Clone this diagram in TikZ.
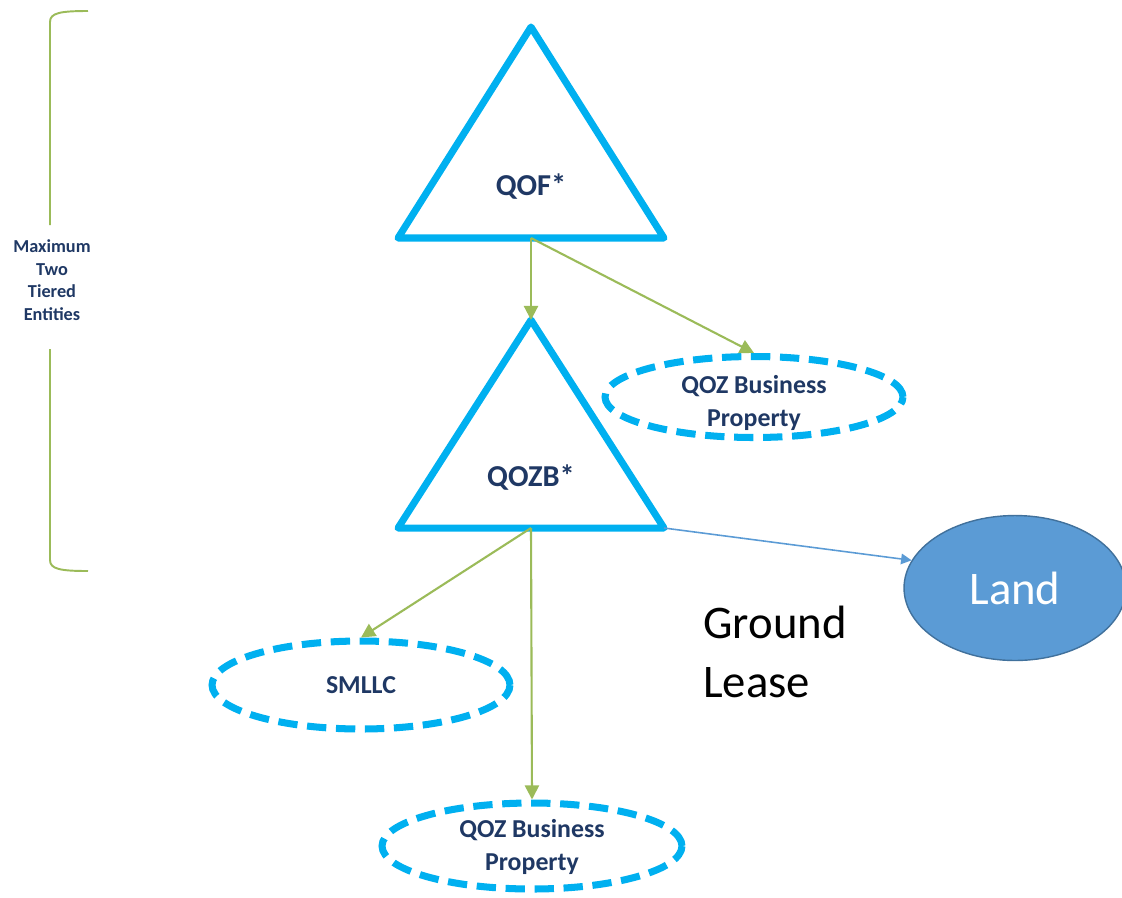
\documentclass[tikz,border=0pt]{standalone}
\usepackage{fontspec}
\setmainfont{Carlito}
\usetikzlibrary{shapes.geometric,arrows.meta}
\definecolor{qozblue}{RGB}{0,176,240}
\definecolor{leafgreen}{RGB}{155,187,89}
\definecolor{navytext}{RGB}{31,56,100}
\definecolor{landfill}{RGB}{91,155,213}
\definecolor{landedge}{RGB}{65,113,156}
\tikzset{
	tier/.style={draw=qozblue, line width=4pt, line join=round},
	tierlabel/.style={font=\fontsize{17.3}{20}\selectfont\bfseries, text=navytext},
	propbox/.style={ellipse, draw=qozblue, line width=4pt, dash pattern=on 11pt off 5.5pt, inner sep=0pt},
	proptext/.style={font=\fontsize{14.7}{18.3}\selectfont\bfseries, text=navytext, align=center},
	owns/.style={draw=leafgreen, line width=1.2pt, -{Triangle[length=8pt,width=8pt]}},
	bracket/.style={draw=leafgreen, line width=1.1pt}
}

\begin{document}
\begin{tikzpicture}[x=0.02cm, y=-0.02cm]
		%%%%% START %%%%%
		\useasboundingbox (0,0) rectangle (1122,897);
		
		% tiers
		\coordinate (qof apex) at (531,27);
		\coordinate (qof left) at (398,238);
		\coordinate (qof right) at (664,238);
		\coordinate (qof base) at (531,238);
		\draw[tier] (qof apex) -- (qof right) -- (qof left) -- cycle;
		\node[tierlabel] (qof) at (531,187) {QOF*};
		
		\coordinate (qozb apex) at (531,320);
		\coordinate (qozb left) at (398,528);
		\coordinate (qozb right) at (664,528);
		\coordinate (qozb base) at (531,528);
		\draw[tier] (qozb apex) -- (qozb right) -- (qozb left) -- cycle;
		\node[tierlabel] (qozb) at (531,478) {QOZB*};
		
		% property
		\node[propbox, minimum width=5.96cm, minimum height=1.62cm] (prop top) at (754,397) {};
		\node[proptext] (prop top text) at (754,403) {QOZ Business\\Property};
		\node[propbox, minimum width=5.96cm, minimum height=1.76cm, proptext] (smllc) at (361,685) {SMLLC};
		\node[propbox, minimum width=6.0cm, minimum height=1.72cm] (prop low) at (532,846) {};
		\node[proptext] (prop low text) at (532,847) {QOZ Business\\Property};
		\node[ellipse, draw=landedge, fill=landfill, line width=0.8pt, minimum width=4.44cm, minimum height=2.9cm,
			text=white, font=\fontsize{26.6}{32}\selectfont] (land) at (1015,588) {Land};
		\node[font=\fontsize{26.6}{33.4}\selectfont, align=left] (lease) at (775,652) {Ground\\Lease};
		
		\draw[owns] (qof base) -- (qozb apex);
		\draw[owns] (qof base) -- (prop top.north);
		\draw[owns] (qozb base) -- (smllc.north);
		\draw[owns] (qozb base) -- (prop low.north);
		\draw[draw=landfill, line width=0.9pt, -{Triangle[length=6pt,width=6pt]}] (qozb right) -- (land.165);
		
		% bracket
		\node[font=\fontsize{10.4}{12.9}\selectfont\bfseries, text=navytext, align=center] (tiers) at (52,280) {Maximum\\Two\\Tiered\\Entities};
		\draw[bracket] (88,11) .. controls (60,11) and (50,13) .. (50,22) -- (50,225);
		\draw[bracket] (50,349) -- (50,560) .. controls (50,569) and (60,571) .. (88,571);
		%%%%% END %%%%%
	\end{tikzpicture}
\end{document}
